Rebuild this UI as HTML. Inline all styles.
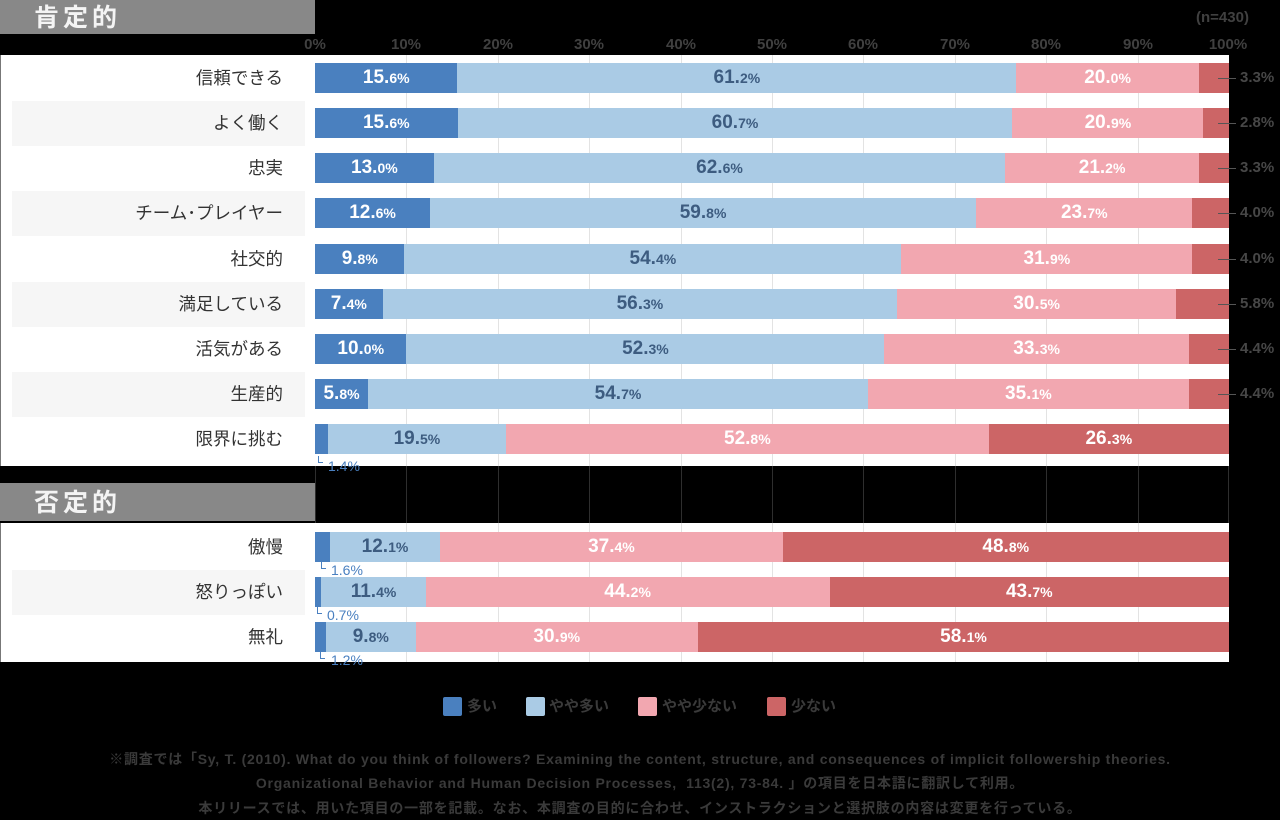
<!DOCTYPE html>
<html><head><meta charset="utf-8">
<style>
*{margin:0;padding:0;box-sizing:border-box}
html,body{width:1280px;height:820px;background:#000;overflow:hidden;position:relative;font-family:"Liberation Sans","Noto Sans CJK JP",sans-serif}
.abs{position:absolute}
.hdr{position:absolute;left:0;width:315px;background:#888;color:#f4f4f4;font-family:"Liberation Sans","Noto Sans CJK JP",sans-serif;font-weight:bold;font-size:25px;letter-spacing:4px;padding-left:34px}
.panel{position:absolute;left:0;width:1229px;background:#fff;border-left:1px solid #777}
.band{position:absolute;left:12px;width:293px;height:45px;background:#f6f6f6}
.lab{position:absolute;left:0;width:283px;text-align:right;font-size:17.5px;color:#333;height:30px;line-height:30px;font-family:"Liberation Sans","Noto Sans CJK JP",sans-serif}
.gl{position:absolute;width:1px;background:#e3e3e3}
.gd{position:absolute;width:1px;background:#2e2e2e}
.bar{position:absolute;left:315px;width:914px;height:30px;display:flex}
.s{flex-basis:0;min-width:0;display:flex;align-items:center;justify-content:center;white-space:nowrap;overflow:visible;font-weight:bold;font-size:19px;color:#fff;line-height:30px}
.s i{font-style:normal;font-size:14px}
.a{background:#4a80bf}
.b{background:#aacbe5;color:#3d5c80}
.c{background:#f2a7b0}
.d{background:#cc6566}
.ax{position:absolute;top:36px;width:70px;margin-left:-35px;text-align:center;font-size:15px;font-weight:bold;color:#404040}
.rl{position:absolute;left:1240px;font-size:15px;font-weight:bold;color:#474747;height:20px;line-height:20px}
.dash{position:absolute;left:1218px;width:18px;height:1px;background:#555}
.sm{position:absolute;font-size:14px;color:#4a80c0;height:16px;line-height:16px}
.br{position:absolute;width:5px;height:7px;border-left:1px solid #4a80c0;border-bottom:1px solid #4a80c0}
.leg{position:absolute;top:697px;width:19px;height:19px;border-radius:2px}
.lt{position:absolute;top:698px;font-size:15px;font-weight:bold;color:#3a3a3a;line-height:17px;font-family:"Liberation Sans","Noto Sans CJK JP",sans-serif}
.fn{position:absolute;left:0;width:1280px;text-align:center;font-size:14px;letter-spacing:0.75px;font-weight:bold;color:#3a3a3a;line-height:16px;white-space:nowrap;font-family:"Liberation Sans","Noto Sans CJK JP",sans-serif}
</style></head><body>

<div class="hdr" style="top:0;height:34px;line-height:36px">肯定的</div>
<div class="abs" style="left:1196px;top:9px;font-size:15px;font-weight:bold;color:#404040;font-family:'Liberation Sans','Noto Sans CJK JP',sans-serif">(n=430)</div>

<div class="ax" style="left:315px">0%</div>
<div class="ax" style="left:406px">10%</div>
<div class="ax" style="left:498px">20%</div>
<div class="ax" style="left:589px">30%</div>
<div class="ax" style="left:681px">40%</div>
<div class="ax" style="left:772px">50%</div>
<div class="ax" style="left:863px">60%</div>
<div class="ax" style="left:955px">70%</div>
<div class="ax" style="left:1046px">80%</div>
<div class="ax" style="left:1138px">90%</div>
<div class="ax" style="left:1228px">100%</div>

<!-- panel 1 -->
<div class="panel" style="top:55px;height:411px"></div>
<div class="band" style="top:101px"></div>
<div class="band" style="top:191px"></div>
<div class="band" style="top:282px"></div>
<div class="band" style="top:372px"></div>

<!-- panel 2 -->
<div class="hdr" style="top:483px;height:38px;line-height:40px">否定的</div>
<div class="panel" style="top:523px;height:139px"></div>
<div class="band" style="top:570px"></div>

<!-- gridlines white -->
<div class="gl" style="left:406px;top:55px;height:411px"></div>
<div class="gl" style="left:498px;top:55px;height:411px"></div>
<div class="gl" style="left:589px;top:55px;height:411px"></div>
<div class="gl" style="left:681px;top:55px;height:411px"></div>
<div class="gl" style="left:772px;top:55px;height:411px"></div>
<div class="gl" style="left:863px;top:55px;height:411px"></div>
<div class="gl" style="left:955px;top:55px;height:411px"></div>
<div class="gl" style="left:1046px;top:55px;height:411px"></div>
<div class="gl" style="left:1138px;top:55px;height:411px"></div>
<div class="gl" style="left:406px;top:523px;height:139px"></div>
<div class="gl" style="left:498px;top:523px;height:139px"></div>
<div class="gl" style="left:589px;top:523px;height:139px"></div>
<div class="gl" style="left:681px;top:523px;height:139px"></div>
<div class="gl" style="left:772px;top:523px;height:139px"></div>
<div class="gl" style="left:863px;top:523px;height:139px"></div>
<div class="gl" style="left:955px;top:523px;height:139px"></div>
<div class="gl" style="left:1046px;top:523px;height:139px"></div>
<div class="gl" style="left:1138px;top:523px;height:139px"></div>
<!-- gridlines dark gap -->
<div class="gd" style="left:315px;top:466px;height:57px"></div>
<div class="gd" style="left:406px;top:466px;height:57px"></div>
<div class="gd" style="left:498px;top:466px;height:57px"></div>
<div class="gd" style="left:589px;top:466px;height:57px"></div>
<div class="gd" style="left:681px;top:466px;height:57px"></div>
<div class="gd" style="left:772px;top:466px;height:57px"></div>
<div class="gd" style="left:863px;top:466px;height:57px"></div>
<div class="gd" style="left:955px;top:466px;height:57px"></div>
<div class="gd" style="left:1046px;top:466px;height:57px"></div>
<div class="gd" style="left:1138px;top:466px;height:57px"></div>
<div class="gd" style="left:1228px;top:466px;height:57px"></div>

<!-- labels -->
<div class="lab" style="top:63px">信頼できる</div>
<div class="lab" style="top:108px">よく働く</div>
<div class="lab" style="top:153px">忠実</div>
<div class="lab" style="top:198px">チーム･プレイヤー</div>
<div class="lab" style="top:244px">社交的</div>
<div class="lab" style="top:289px">満足している</div>
<div class="lab" style="top:334px">活気がある</div>
<div class="lab" style="top:379px">生産的</div>
<div class="lab" style="top:424px">限界に挑む</div>
<div class="lab" style="top:532px">傲慢</div>
<div class="lab" style="top:577px">怒りっぽい</div>
<div class="lab" style="top:622px">無礼</div>

<!-- bars -->
<div class="bar" style="top:63px"><div class="s a" style="flex-grow:15.6">15.<i>6%</i></div><div class="s b" style="flex-grow:61.2">61.<i>2%</i></div><div class="s c" style="flex-grow:20.0">20.<i>0%</i></div><div class="s d" style="flex-grow:3.3"></div></div>
<div class="bar" style="top:108px"><div class="s a" style="flex-grow:15.6">15.<i>6%</i></div><div class="s b" style="flex-grow:60.7">60.<i>7%</i></div><div class="s c" style="flex-grow:20.9">20.<i>9%</i></div><div class="s d" style="flex-grow:2.8"></div></div>
<div class="bar" style="top:153px"><div class="s a" style="flex-grow:13.0">13.<i>0%</i></div><div class="s b" style="flex-grow:62.6">62.<i>6%</i></div><div class="s c" style="flex-grow:21.2">21.<i>2%</i></div><div class="s d" style="flex-grow:3.3"></div></div>
<div class="bar" style="top:198px"><div class="s a" style="flex-grow:12.6">12.<i>6%</i></div><div class="s b" style="flex-grow:59.8">59.<i>8%</i></div><div class="s c" style="flex-grow:23.7">23.<i>7%</i></div><div class="s d" style="flex-grow:4.0"></div></div>
<div class="bar" style="top:244px"><div class="s a" style="flex-grow:9.8">9.<i>8%</i></div><div class="s b" style="flex-grow:54.4">54.<i>4%</i></div><div class="s c" style="flex-grow:31.9">31.<i>9%</i></div><div class="s d" style="flex-grow:4.0"></div></div>
<div class="bar" style="top:289px"><div class="s a" style="flex-grow:7.4">7.<i>4%</i></div><div class="s b" style="flex-grow:56.3">56.<i>3%</i></div><div class="s c" style="flex-grow:30.5">30.<i>5%</i></div><div class="s d" style="flex-grow:5.8"></div></div>
<div class="bar" style="top:334px"><div class="s a" style="flex-grow:10.0">10.<i>0%</i></div><div class="s b" style="flex-grow:52.3">52.<i>3%</i></div><div class="s c" style="flex-grow:33.3">33.<i>3%</i></div><div class="s d" style="flex-grow:4.4"></div></div>
<div class="bar" style="top:379px"><div class="s a" style="flex-grow:5.8">5.<i>8%</i></div><div class="s b" style="flex-grow:54.7">54.<i>7%</i></div><div class="s c" style="flex-grow:35.1">35.<i>1%</i></div><div class="s d" style="flex-grow:4.4"></div></div>
<div class="bar" style="top:424px"><div class="s a" style="flex-grow:1.4"></div><div class="s b" style="flex-grow:19.5">19.<i>5%</i></div><div class="s c" style="flex-grow:52.8">52.<i>8%</i></div><div class="s d" style="flex-grow:26.3">26.<i>3%</i></div></div>

<div class="bar" style="top:532px"><div class="s a" style="flex-grow:1.6"></div><div class="s b" style="flex-grow:12.1">12.<i>1%</i></div><div class="s c" style="flex-grow:37.4">37.<i>4%</i></div><div class="s d" style="flex-grow:48.8">48.<i>8%</i></div></div>
<div class="bar" style="top:577px"><div class="s a" style="flex-grow:0.7"></div><div class="s b" style="flex-grow:11.4">11.<i>4%</i></div><div class="s c" style="flex-grow:44.2">44.<i>2%</i></div><div class="s d" style="flex-grow:43.7">43.<i>7%</i></div></div>
<div class="bar" style="top:622px"><div class="s a" style="flex-grow:1.2"></div><div class="s b" style="flex-grow:9.8">9.<i>8%</i></div><div class="s c" style="flex-grow:30.9">30.<i>9%</i></div><div class="s d" style="flex-grow:58.1">58.<i>1%</i></div></div>

<!-- right labels -->
<div class="dash" style="top:78px"></div><div class="rl" style="top:68px">3.3%</div>
<div class="dash" style="top:123px"></div><div class="rl" style="top:113px">2.8%</div>
<div class="dash" style="top:168px"></div><div class="rl" style="top:158px">3.3%</div>
<div class="dash" style="top:213px"></div><div class="rl" style="top:203px">4.0%</div>
<div class="dash" style="top:259px"></div><div class="rl" style="top:249px">4.0%</div>
<div class="dash" style="top:304px"></div><div class="rl" style="top:294px">5.8%</div>
<div class="dash" style="top:349px"></div><div class="rl" style="top:339px">4.4%</div>
<div class="dash" style="top:394px"></div><div class="rl" style="top:384px">4.4%</div>

<!-- small labels -->
<div class="br" style="left:318px;top:456px"></div><div class="sm" style="left:328px;top:458px">1.4%</div>
<div class="br" style="left:321px;top:562px"></div><div class="sm" style="left:331px;top:562px">1.6%</div>
<div class="br" style="left:317px;top:607px"></div><div class="sm" style="left:327px;top:607px">0.7%</div>
<div class="br" style="left:320px;top:652px"></div><div class="sm" style="left:331px;top:652px">1.2%</div>

<!-- legend -->
<div class="leg a" style="left:443px"></div><div class="lt" style="left:467px">多い</div>
<div class="leg b" style="left:526px"></div><div class="lt" style="left:549px">やや多い</div>
<div class="leg c" style="left:638px"></div><div class="lt" style="left:662px">やや少ない</div>
<div class="leg d" style="left:767px"></div><div class="lt" style="left:791px">少ない</div>

<!-- footnotes -->
<div class="fn" style="top:751px">※調査では「Sy, T. (2010). What do you think of followers? Examining the content, structure, and consequences of implicit followership theories.</div>
<div class="fn" style="top:775px">Organizational Behavior and Human Decision Processes,&nbsp; 113(2), 73-84. 」の項目を日本語に翻訳して利用。</div>
<div class="fn" style="top:800px">本リリースでは、用いた項目の一部を記載。なお、本調査の目的に合わせ、インストラクションと選択肢の内容は変更を行っている。</div>

</body></html>
